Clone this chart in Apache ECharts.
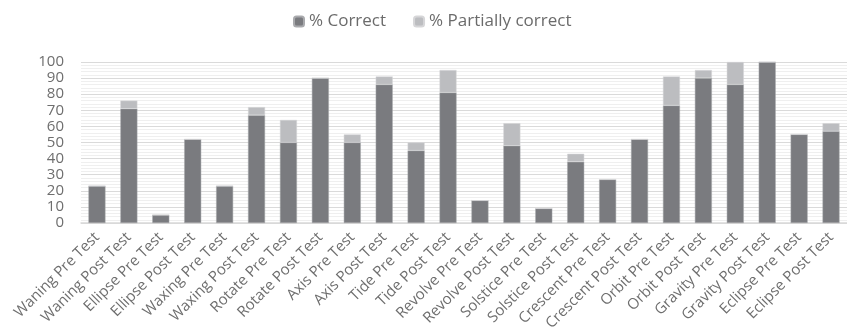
<!DOCTYPE html>
<html><head><meta charset="utf-8">
<script src="https://cdn.jsdelivr.net/npm/echarts@6/dist/echarts.min.js"></script>
<style>html,body{margin:0;padding:0;background:#fff}#c{width:847px;height:336px}</style>
</head><body><div id="c"></div>
<script>
const categories = ["Waning Pre Test","Waning Post Test","Ellipse Pre Test","Ellipse Post Test","Waxing Pre Test","Waxing Post Test","Rotate Pre Test","Rotate Post Test","Axis Pre Test","Axis Post Test","Tide Pre Test","Tide Post Test","Revolve Pre Test","Revolve Post Test","Solstice Pre Test","Solstice Post Test","Crescent Pre Test","Crescent Post Test","Orbit Pre Test","Orbit Post Test","Gravity Pre Test","Gravity Post Test","Eclipse Pre Test","Eclipse Post Test"];
const correct = [23,71,5,52,23,67,50,90,50,86,45,81,14,48,9,38,27,52,73,90,86,100,55,57];
const partial = [0,5,0,0,0,5,14,0,5,5,5,14,0,14,0,5,0,0,18,5,14,0,0,5];
const yTicks = [0,10,20,30,40,50,60,70,80,90,100];

const chart = echarts.init(document.getElementById('c'));
const font = "'Open Sans', sans-serif";
chart.setOption({
  animation:false,
  legend:{top:8,left:288,itemWidth:10,itemHeight:10,itemGap:27,
    textStyle:{fontFamily:font,fontSize:17,color:'#6b6b6b'},
    data:['% Correct','% Partially correct']},
  grid:{left:81,right:-9,top:62,bottom:113,containLabel:false},
  xAxis:{type:'category',data:categories,
    axisLine:{lineStyle:{color:'#d9d9d9',width:1.5}},axisTick:{show:false},
    axisLabel:{rotate:45,interval:0,fontFamily:font,fontSize:15,color:'#6e6e6e',margin:12}},
  yAxis:{type:'value',min:yTicks[0],max:yTicks[yTicks.length-1],interval:10,
    axisLabel:{fontFamily:font,fontSize:15,color:'#6e6e6e',margin:17},
    axisLine:{show:false},axisTick:{show:false},
    splitLine:{lineStyle:{color:'#dadada',width:1}},
    minorTick:{show:false,splitNumber:5},
    minorSplitLine:{show:true,lineStyle:{color:'#efefef',width:1}}},
  series:[
    {name:'% Correct',type:'bar',stack:'a',data:correct,barWidth:17,
      itemStyle:{color:'#7a7b7f',borderColor:'#a9aaad',borderWidth:0.5}},
    {name:'% Partially correct',type:'bar',stack:'a',data:partial,barWidth:17,
      itemStyle:{color:'#bcbdc0',borderColor:'#d6d6d8',borderWidth:0.5}}
  ]
});
</script></body></html>
